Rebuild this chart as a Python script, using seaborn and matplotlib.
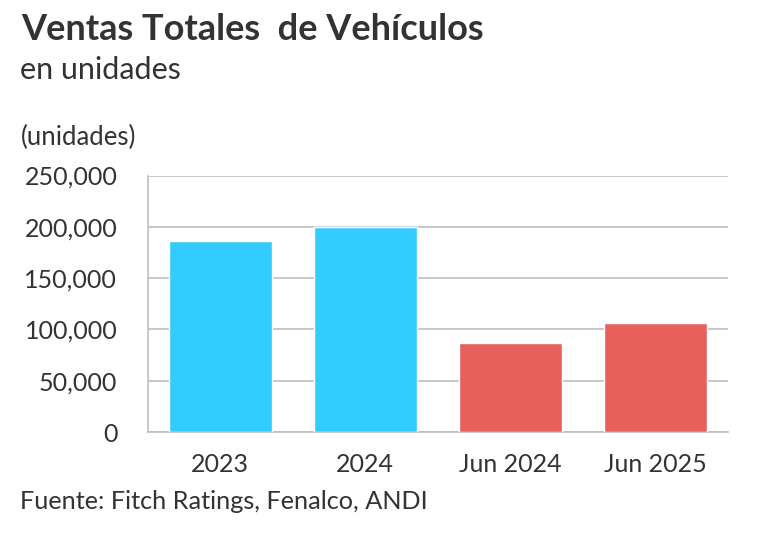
import matplotlib
matplotlib.use("Agg")
import matplotlib.pyplot as plt
import seaborn as sns
import pandas as pd
from matplotlib.ticker import FuncFormatter

# values
periods = ["2023", "2024", "Jun 2024", "Jun 2025"]
units = [186000, 200000, 87000, 106500]
bar_colors = ["#33CCFF", "#33CCFF", "#E8605B", "#E8605B"]
y_ticks = [0, 50000, 100000, 150000, 200000, 250000]

sns.set_theme(style="white")
plt.rcParams["font.family"] = ["Lato", "DejaVu Sans"]
text_color = "#333333"

df = pd.DataFrame({"periodo": periods, "unidades": units})

fig = plt.figure(figsize=(7.58, 5.4), dpi=100)
ax = fig.add_axes([0.195, 0.2, 0.765, 0.475])

sns.barplot(data=df, x="periodo", y="unidades", hue="periodo",
            palette=bar_colors, width=0.71, legend=False,
            saturation=1, ax=ax, zorder=3)

ax.set_ylim(0, 250000)
ax.set_xlim(-0.5, 3.5)
ax.set_yticks(y_ticks)
ax.yaxis.set_major_formatter(FuncFormatter(lambda v, p: f"{int(v):,}"))
ax.grid(axis="y", color="#BFBFBF", linewidth=1.2, zorder=0)
ax.set_axisbelow(True)

for side in ["top", "right"]:
    ax.spines[side].set_visible(False)
for side in ["left", "bottom"]:
    ax.spines[side].set_color("#BFBFBF")
    ax.spines[side].set_linewidth(1.2)

ax.tick_params(axis="both", length=0, labelsize=18, colors=text_color)
ax.tick_params(axis="y", pad=22)
ax.tick_params(axis="x", pad=15)
ax.set_xlabel("")
ax.set_ylabel("")

# titles and notes
fig.text(0.028, 0.926, "Ventas Totales  de Vehículos", fontsize=26,
         fontweight="bold", color=text_color, va="baseline", ha="left")
fig.text(0.026, 0.854, "en unidades", fontsize=22,
         color=text_color, va="baseline", ha="left")
fig.text(0.028, 0.7315, "(unidades)", fontsize=18.5,
         color=text_color, va="baseline", ha="left")
fig.text(0.026, 0.0574, "Fuente: Fitch Ratings, Fenalco, ANDI", fontsize=18.2,
         color=text_color, va="baseline", ha="left")

fig.savefig("out.png", dpi=100, facecolor="white")
